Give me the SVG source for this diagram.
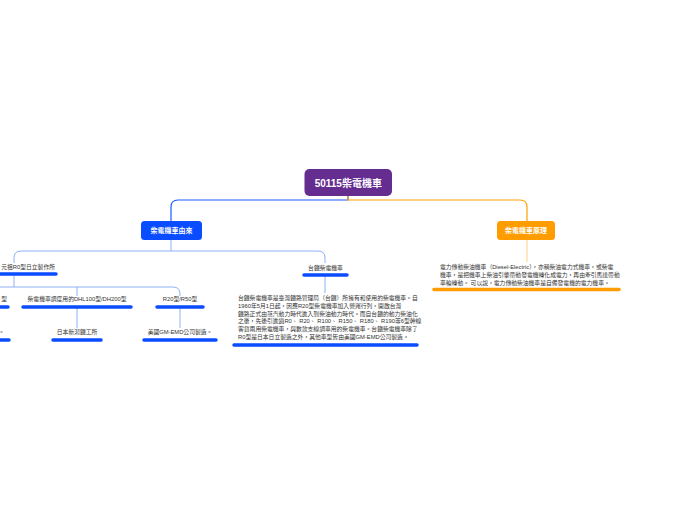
<svg xmlns="http://www.w3.org/2000/svg" width="696" height="520" viewBox="0 0 696 520">
<style>
.t{font-family:"Liberation Sans","Noto Sans CJK TC","Noto Sans CJK SC",sans-serif;fill:#333;font-size:5.8px}
.nt{font-family:"Liberation Sans","Noto Sans CJK TC","Noto Sans CJK SC",sans-serif;fill:#fff;font-weight:bold;text-anchor:middle;dominant-baseline:central}
.ul{stroke:#0a4cff;stroke-width:3.5;stroke-linecap:round;fill:none}
.ulo{stroke:#ff9c00;stroke-width:3.5;stroke-linecap:round;fill:none}
.cb{stroke:#1a5cff;stroke-width:1.2;fill:none}
.cl{stroke:#8fb0f5;stroke-width:1;fill:none}
.co{stroke:#ffa000;stroke-width:1.2;fill:none}
.co2{stroke:#ffcf80;stroke-width:1;fill:none}
</style>
<rect width="696" height="520" fill="#fff"/>
<g id="connectors">
<path class="cb" d="M348,196 V200 H178 Q171,200 171,207 V221"/>
<path class="co" d="M348,196 V200 H520 Q527,200 527,207 V221"/>
<path class="cl" d="M171,240 V251"/>
<path class="cl" d="M14,263 V258 Q14,251 21,251 H318 Q325,251 325,258 V263"/>
<path class="cl" d="M14,274 V287"/>
<path class="cl" d="M-40,287 H173 Q180,287 180,294 V296"/>
<path class="cl" d="M77,287 V296"/>
<path class="cl" d="M77,307 V328"/>
<path class="cl" d="M180,307 V328"/>
<path class="cl" d="M325,275 V293"/>
<path class="co2" d="M527,240 V262"/>
</g>
<g id="root">
<rect x="304.5" y="169" width="87.5" height="27" rx="5" fill="#652d90"/>
<text class="nt" x="348.3" y="183" font-size="10">50115柴電機車</text>
</g>
<g id="n-origin">
<rect x="141" y="221" width="61" height="19" rx="3.5" fill="#0a4cff"/>
<text class="nt" x="171.5" y="230.8" font-size="7">柴電機車由來</text>
</g>
<g id="n-principle">
<rect x="497" y="221" width="58" height="19" rx="3.5" fill="#ff9c00"/>
<text class="nt" x="526" y="230.8" font-size="7">柴電機車原理</text>
</g>
<g id="n-r0">
<text class="t" x="55" y="269" text-anchor="end">元祖R0型日立製作所</text>
<path class="ul" d="M-30,274 H56"/>
</g>
<g id="n-cut1">
<text class="t" x="7" y="301" text-anchor="end">型</text>
<path class="ul" d="M-40,307 H8"/>
</g>
<g id="n-dhl">
<text class="t" x="77" y="301" text-anchor="middle">柴電機車調度用的DHL100型/DH200型</text>
<path class="ul" d="M23,307 H131"/>
</g>
<g id="n-r20">
<text class="t" x="180" y="301" text-anchor="middle">R20型/R50型</text>
<path class="ul" d="M157,307 H203"/>
</g>
<g id="n-cut2">
<text class="t" x="-1.5" y="334">。</text>
<path class="ul" d="M-40,340 H9"/>
</g>
<g id="n-niigata">
<text class="t" x="77" y="334" text-anchor="middle">日本新潟鐵工所</text>
<path class="ul" d="M53,340 H101"/>
</g>
<g id="n-gm">
<text class="t" x="180" y="334" text-anchor="middle">美國GM-EMD公司製造。</text>
<path class="ul" d="M144,340 H216"/>
</g>
<g id="n-tra">
<text class="t" x="325.5" y="269.5" text-anchor="middle">台鐵柴電機車</text>
<path class="ul" d="M304,275 H347"/>
</g>
<g id="n-tra-desc">
<text class="t" font-size="5.65">
<tspan x="238" y="300">台鐵柴電機車是臺灣鐵路管理局（台鐵）所擁有和使用的柴電機車。自</tspan>
<tspan x="238" y="307.8">1960年5月1日起，因應R20型柴電機車加入營運行列，開啟台灣</tspan>
<tspan x="238" y="315.6">鐵路正式由蒸汽動力時代進入到柴油動力時代。而自台鐵的動力柴油化</tspan>
<tspan x="238" y="323.4">之後，先後引進過R0、 R20、 R100、 R150、 R180、 R190等6型幹線</tspan>
<tspan x="238" y="331.2">客貨兩用柴電機車，與數款支線調車用的柴電機車。台鐵柴電機車除了</tspan>
<tspan x="238" y="339">R0型是日本日立製造之外，其他車型皆由美國GM-EMD公司製造。</tspan>
</text>
<path class="ul" d="M234,345 H417"/>
</g>
<g id="n-principle-desc">
<text class="t">
<tspan x="440" y="269">電力傳動柴油機車（Diesel-Electric），亦稱柴油電力式機車，或柴電</tspan>
<tspan x="440" y="276.8">機車，是把機車上柴油引擎帶動發電機轉化成電力，再由牽引馬達帶動</tspan>
<tspan x="440" y="284.6">車輪轉動。 可以說，電力傳動柴油機車是自備發電機的電力機車。</tspan>
</text>
<path class="ulo" d="M434,289.5 H619"/>
</g>
</svg>
